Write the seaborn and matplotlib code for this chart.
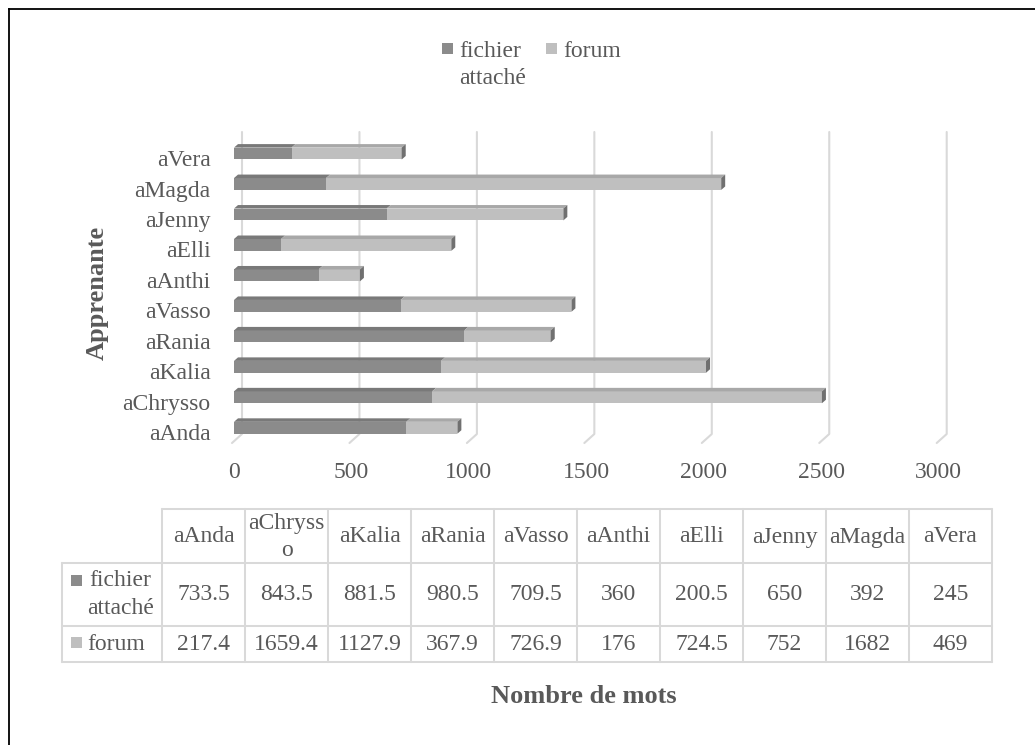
import textwrap
import numpy as np
import pandas as pd
import matplotlib
matplotlib.use("Agg")
import matplotlib.pyplot as plt
from matplotlib.patches import Polygon, Rectangle
from matplotlib.lines import Line2D
from matplotlib.transforms import ScaledTranslation
import seaborn as sns

# ---------------- data ----------------
learners = ["aAnda", "aChrysso", "aKalia", "aRania", "aVasso",
            "aAnthi", "aElli", "aJenny", "aMagda", "aVera"]
fichier_attache = [733.5, 843.5, 881.5, 980.5, 709.5, 360, 200.5, 650, 392, 245]
forum = [217.4, 1659.4, 1127.9, 367.9, 726.9, 176, 724.5, 752, 1682, 469]
series_names = ["fichier attaché", "forum"]
x_ticks = [0, 500, 1000, 1500, 2000, 2500, 3000]
y_title = "Apprenante"
x_title = "Nombre de mots"

# ---------------- style ----------------
TEXT = "#595959"
DARK = "#8b8b8b"
LIGHT = "#bfbfbf"
DARK_TOP = "#797979"
LIGHT_TOP = "#a8a8a8"
CAP = "#707070"
GRID = "#d9d9d9"

sns.set_theme(style="white")
plt.rcParams["font.family"] = ["Liberation Serif", "DejaVu Serif"]
plt.rcParams["text.color"] = TEXT
FS = 17
FS_B = 19
LS = 1.38

W, H = 1035, 745
fig = plt.figure(figsize=(W / 100, H / 100), dpi=100)

ax_l, ax_r, ax_t, ax_b = 234, 938.7, 138.3, 443
ax = fig.add_axes([ax_l / W, 1 - ax_b / H, (ax_r - ax_l) / W, (ax_b - ax_t) / H])

df = pd.DataFrame({"learner": learners, "fichier": fichier_attache, "forum": forum})
df["total"] = df["fichier"] + df["forum"]
order = learners[::-1]
bar_w = 0.39

sns.barplot(data=df, x="total", y="learner", order=order, color=LIGHT, saturation=1,
            width=bar_w, linewidth=0, orient="h", errorbar=None, ax=ax, zorder=2)
sns.barplot(data=df, x="fichier", y="learner", order=order, color=DARK, saturation=1,
            width=bar_w, linewidth=0, orient="h", errorbar=None, ax=ax, zorder=2)

n = len(order)
ax.set_xlim(x_ticks[0], x_ticks[-1])
ax.set_ylim(n - 0.5, -0.5)
px_x = (x_ticks[-1] - x_ticks[0]) / (ax_r - ax_l)
px_y = n / (ax_b - ax_t)

# 3D-like top faces and end caps
dx, dy = 4 * px_x, 3.5 * px_y
d = df.set_index("learner")
for i, name in enumerate(order):
    f = d.loc[name, "fichier"]
    t = d.loc[name, "total"]
    top = i - bar_w / 2
    bot = i + bar_w / 2
    for x0, x1, c in [(0, f, DARK_TOP), (f, t, LIGHT_TOP)]:
        ax.add_patch(Polygon([(x0, top), (x1, top), (x1 + dx, top - dy), (x0 + dx, top - dy)],
                             closed=True, facecolor=c, edgecolor="none", zorder=3, clip_on=False))
    ax.add_patch(Polygon([(t, top), (t + dx, top - dy), (t + dx, bot - dy), (t, bot)],
                         closed=True, facecolor=CAP, edgecolor="none", zorder=3, clip_on=False))

# back-wall gridlines with a small floor foot
g_top = -0.5 - (138.3 - 132) * px_y
g_knee = -0.5 + (434 - 138.3) * px_y
for v in x_ticks:
    ax.add_line(Line2D([v + 8 * px_x, v + 8 * px_x, v - 2 * px_x], [g_top, g_knee, n - 0.5],
                       color=GRID, lw=1.5, zorder=0.5, clip_on=False))

ax.set_xticks(x_ticks)
ax.set_xticklabels([f"{v:g}" for v in x_ticks])
ax.tick_params(axis="both", length=0, labelsize=FS, colors=TEXT)
ax.tick_params(axis="x", pad=14)
ax.tick_params(axis="y", pad=17)
shift = ScaledTranslation(0, -0.045, fig.dpi_scale_trans)
for lab in ax.get_yticklabels():
    lab.set_transform(lab.get_transform() + shift)
for s in ax.spines.values():
    s.set_visible(False)
ax.grid(False)
ax.set_facecolor("none")

ax.set_ylabel(y_title, fontsize=FS_B, fontweight="bold", color=TEXT)
ax.yaxis.label.set_va("center")
ax.yaxis.set_label_coords((97 - ax_l) / (ax_r - ax_l), 1 - (292.5 - ax_t) / (ax_b - ax_t))
ax.set_xlabel(x_title, fontsize=FS_B, fontweight="bold", color=TEXT)
ax.xaxis.label.set_va("center")
ax.xaxis.set_label_coords((584 - ax_l) / (ax_r - ax_l), 1 - (696 - ax_t) / (ax_b - ax_t))

# ---------------- pixel overlay: legend, data table, frame ----------------
ov = fig.add_axes([0, 0, 1, 1], zorder=5)
ov.set_xlim(0, W)
ov.set_ylim(H, 0)
ov.axis("off")
ov.patch.set_visible(False)

# legend (keys aligned with first text line)
leg_keys_x = [442, 546]
for kx, sname, col in zip(leg_keys_x, series_names, [DARK, LIGHT]):
    ov.add_patch(Rectangle((kx, 43), 11, 11, facecolor=col, edgecolor="none"))
    ov.text(kx + 17, 41, textwrap.fill(sname, 7), ha="left", va="top",
            fontsize=FS, color=TEXT, linespacing=LS)

# data table
col_edges = [162 + 83 * k for k in range(len(learners) + 1)]
row_edges = [509, 563, 626, 662]
lab_left = 62
tlw = 1.45
ov.plot([col_edges[0], col_edges[-1]], [row_edges[0]] * 2, color=GRID, lw=tlw)
for y in row_edges[1:]:
    ov.plot([lab_left, col_edges[-1]], [y, y], color=GRID, lw=tlw)
ov.plot([lab_left, lab_left], [row_edges[1], row_edges[-1]], color=GRID, lw=tlw)
for x in col_edges:
    ov.plot([x, x], [row_edges[0], row_edges[-1]], color=GRID, lw=tlw)

for k, name in enumerate(learners):
    cx = (col_edges[k] + col_edges[k + 1]) / 2
    ov.text(cx, (row_edges[0] + row_edges[1]) / 2 + 1, textwrap.fill(name, 7, break_long_words=True),
            ha="center", va="center", fontsize=FS, color=TEXT, linespacing=LS)
    for r, vals in enumerate([fichier_attache, forum]):
        cy = (row_edges[r + 1] + row_edges[r + 2]) / 2
        ov.text(cx, cy, f"{vals[k]:g}", ha="center", va="center", fontsize=FS, color=TEXT)

key_y = [575, 637]
for r, (sname, col) in enumerate(zip(series_names, [DARK, LIGHT])):
    cy = (row_edges[r + 1] + row_edges[r + 2]) / 2
    ov.add_patch(Rectangle((71, key_y[r]), 11, 11, facecolor=col, edgecolor="none"))
    ov.text(87, cy, textwrap.fill(sname, 7), ha="left", va="center", multialignment="center",
            fontsize=FS, color=TEXT, linespacing=LS)

# outer frame (top and left edges visible)
ov.plot([8.5, 8.5], [H, 8.5], color="black", lw=1.3, solid_capstyle="projecting")
ov.plot([8.5, W], [8.5, 8.5], color="black", lw=1.3, solid_capstyle="projecting")

fig.savefig("out.png", dpi=100)
